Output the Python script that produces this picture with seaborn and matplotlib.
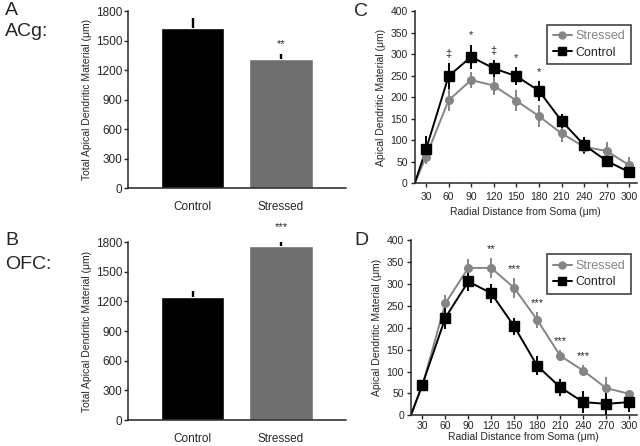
import seaborn as sns
import matplotlib
matplotlib.use('Agg')
import matplotlib.pyplot as plt
from matplotlib.lines import Line2D
import pandas as pd

# ---- data ----
groups = ["Control", "Stressed"]
acg_total = [1624, 1309]
acg_total_err = [110, 60]
ofc_total = [1244, 1766]
ofc_total_err = [65, 95]

distances = [30, 60, 90, 120, 150, 180, 210, 240, 270, 300]
acg_stressed = [62, 193, 240, 227, 192, 156, 116, 85, 75, 42]
acg_stressed_err = [17, 25, 18, 21, 25, 25, 19, 17, 21, 19]
acg_control = [79, 249, 294, 267, 249, 215, 145, 89, 52, 26]
acg_control_err = [30, 30, 28, 19, 21, 23, 17, 19, 12, 12]
acg_marks = {60: "\u2021", 90: "*", 120: "\u2021", 150: "*", 180: "*"}

ofc_stressed = [68, 256, 337, 337, 291, 218, 136, 102, 62, 49]
ofc_stressed_err = [8, 20, 20, 22, 22, 18, 13, 13, 25, 8]
ofc_control = [70, 223, 306, 279, 203, 113, 64, 30, 26, 30]
ofc_control_err = [10, 25, 22, 22, 20, 22, 20, 25, 25, 22]
ofc_marks = {120: "**", 150: "***", 180: "***", 210: "***", 240: "***"}

origin_x = 15  # curves start from the axis corner

sns.set_style("ticks")
plt.rcParams['font.family'] = ['Liberation Sans', 'DejaVu Sans']
plt.rcParams['axes.linewidth'] = 1.1
plt.rcParams['xtick.major.width'] = 1.0
plt.rcParams['ytick.major.width'] = 1.0
plt.rcParams['xtick.major.size'] = 3
plt.rcParams['ytick.major.size'] = 3

BAR_GRAY = "#6f6f6f"
LINE_GRAY = "#858585"

fig = plt.figure(figsize=(6.4, 4.46), dpi=100)
axA = fig.add_axes([0.200, 0.578, 0.340, 0.397])
axB = fig.add_axes([0.200, 0.058, 0.340, 0.399])
axC = fig.add_axes([0.648, 0.589, 0.347, 0.386])
axD = fig.add_axes([0.642, 0.069, 0.353, 0.392])


def bar_panel(ax, vals, errs, mark):
    df = pd.DataFrame({"group": groups, "value": vals})
    sns.barplot(data=df, x="group", y="value", hue="group",
                palette=["black", BAR_GRAY], width=0.72, errorbar=None,
                legend=False, ax=ax, saturation=1)
    ax.errorbar([0, 1], vals, yerr=[[0, 0], errs], fmt="none",
                ecolor="black", elinewidth=1.7, capsize=0)
    ax.annotate(mark, (1, vals[1] + errs[1]), xytext=(0, 3),
                textcoords="offset points", ha="center", va="bottom",
                fontsize=8, annotation_clip=False)
    ax.set_xlim(-0.73, 1.73)
    ax.set_ylim(0, 1800)
    ax.set_yticks(range(0, 1801, 300))
    ax.tick_params(axis="x", length=0, labelsize=8.5, pad=9)
    ax.tick_params(axis="y", labelsize=8.5, pad=1)
    ax.set_xlabel("")
    ax.set_ylabel("Total Apical Dendritic Material (\u03bcm)", fontsize=7.5,
                  labelpad=3)
    sns.despine(ax=ax)


def line_panel(ax, stressed, s_err, control, c_err, marks, tick_pad, lab_pad):
    for vals, errs, color, marker, ms in [
            (stressed, s_err, LINE_GRAY, "o", 5.5),
            (control, c_err, "black", "s", 6.5)]:
        sns.lineplot(x=[origin_x] + distances, y=[0] + vals, color=color,
                     lw=1.4, ax=ax)
        ax.errorbar(distances, vals, yerr=errs, fmt=marker, color=color,
                    ms=ms, elinewidth=1.4, capsize=0)
    top = {d: max(s + se, c + ce) for d, s, se, c, ce in
           zip(distances, stressed, s_err, control, c_err)}
    for d, m in marks.items():
        ax.annotate(m, (d, top[d]), xytext=(0, 3),
                    textcoords="offset points", ha="center", va="bottom",
                    fontsize=8)
    ax.set_xlim(origin_x, 310)
    ax.set_ylim(0, 400)
    ax.set_xticks(distances)
    ax.set_yticks(range(0, 401, 50))
    ax.tick_params(labelsize=7.5, pad=2)
    ax.tick_params(axis="x", pad=tick_pad)
    ax.set_xlabel("Radial Distance from Soma (\u03bcm)", fontsize=7.5,
                  labelpad=lab_pad)
    ax.set_ylabel("Apical Dendritic Material (\u03bcm)", fontsize=7.5,
                  labelpad=3)
    handles = [Line2D([], [], color=LINE_GRAY, marker="o", ms=5, lw=1.4),
               Line2D([], [], color="black", marker="s", ms=6, lw=1.4)]
    leg = ax.legend(handles, ["Stressed", "Control"], loc="upper right",
                    bbox_to_anchor=(0.985, 0.935), fontsize=9, frameon=True,
                    fancybox=False, handlelength=1.5, handletextpad=0.3,
                    borderpad=0.45, labelspacing=0.35, borderaxespad=0.2)
    leg.get_frame().set_edgecolor("black")
    leg.get_frame().set_linewidth(1.1)
    leg.get_texts()[0].set_color(LINE_GRAY)
    sns.despine(ax=ax)


bar_panel(axA, acg_total, acg_total_err, "**")
bar_panel(axB, ofc_total, ofc_total_err, "***")
line_panel(axC, acg_stressed, acg_stressed_err, acg_control, acg_control_err,
           acg_marks, 3, 4)
line_panel(axD, ofc_stressed, ofc_stressed_err, ofc_control, ofc_control_err,
           ofc_marks, 1, 1)

fig.text(0.008, 0.976, "A", fontsize=14, va="center")
fig.text(0.008, 0.929, "ACg:", fontsize=14, va="center")
fig.text(0.008, 0.461, "B", fontsize=14, va="center")
fig.text(0.008, 0.406, "OFC:", fontsize=14, va="center")
fig.text(0.553, 0.975, "C", fontsize=14, va="center")
fig.text(0.553, 0.461, "D", fontsize=14, va="center")

fig.savefig("out.png", dpi=100)
